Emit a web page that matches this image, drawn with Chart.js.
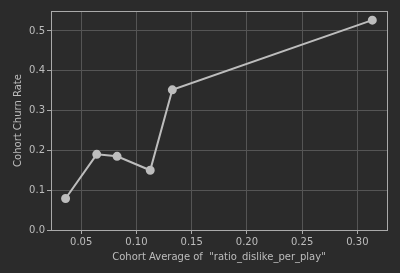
<!DOCTYPE html>
<html>
<head>
<meta charset="utf-8">
<script src="https://cdn.jsdelivr.net/npm/chart.js@4/dist/chart.umd.min.js"></script>
<style>
  html, body { margin: 0; padding: 0; background: #2b2b2b; }
  #wrap { width: 400px; height: 273px; }
</style>
</head>
<body>
<div id="wrap"><canvas id="churn"></canvas></div>
<script>
// cohort averages of ratio_dislike_per_play vs churn rate
let ratio_avg = [0.0359, 0.0641, 0.0825, 0.1125, 0.1325, 0.3135];
let churn_rate = [0.079, 0.190, 0.185, 0.150, 0.352, 0.527];
let x_ticks = [0.05, 0.10, 0.15, 0.20, 0.25, 0.30];
let y_ticks = [0.0, 0.1, 0.2, 0.3, 0.4, 0.5];

let points = [];
for (let i = 0; i < ratio_avg.length; i++) {
  points.push({x: ratio_avg[i], y: churn_rate[i]});
}

const textColor = '#bdbdbd';
const gridColor = '#555555';
const font = {family: 'DejaVu Sans', size: 10};

// matplotlib-like frame round the plot area
const frame = {
  id: 'frame',
  afterDraw(chart) {
    const a = chart.chartArea;
    const c = chart.ctx;
    c.save();
    c.strokeStyle = '#aaaaaa';
    c.lineWidth = 1;
    c.strokeRect(Math.round(a.left) + 0.5, Math.round(a.top) + 0.5,
                 Math.round(a.right - a.left), Math.round(a.bottom - a.top));
    c.restore();
  }
};

new Chart(document.getElementById('churn'), {
  type: 'line',
  data: {
    datasets: [{
      data: points,
      borderColor: '#bdbdbd',
      backgroundColor: '#bdbdbd',
      borderWidth: 2,
      pointRadius: 3.5,
      pointHoverRadius: 3.5,
      tension: 0
    }]
  },
  options: {
    responsive: true,
    maintainAspectRatio: false,
    animation: false,
    layout: {padding: {left: 0, top: 11, right: 13, bottom: 0}},
    plugins: {legend: {display: false}, tooltip: {enabled: false}},
    scales: {
      x: {
        type: 'linear',
        min: 0.0227,
        max: 0.3268,
        afterBuildTicks: (s) => { s.ticks = x_ticks.map(v => ({value: v})); },
        afterFit: (s) => { s.height = 43; },
        ticks: {
          color: textColor, font: font, padding: 2, maxRotation: 0,
          callback: (v) => v.toFixed(2)
        },
        grid: {color: gridColor, tickLength: 4, tickColor: '#aaaaaa'},
        border: {display: false},
        title: {
          display: true, color: textColor, font: font,
          text: 'Cohort Average of  "ratio_dislike_per_play"',
          padding: {top: 2, bottom: 10}
        }
      },
      y: {
        type: 'linear',
        min: 0,
        max: 0.55,
        afterBuildTicks: (s) => { s.ticks = y_ticks.map(v => ({value: v})); },
        afterFit: (s) => { s.width = 51; },
        ticks: {
          color: textColor, font: font, padding: 2,
          callback: (v) => v.toFixed(1)
        },
        grid: {color: gridColor, tickLength: 4, tickColor: '#aaaaaa'},
        border: {display: false},
        title: {
          display: true, color: textColor, font: font,
          text: 'Cohort Churn Rate',
          padding: {top: 12, bottom: 2}
        }
      }
    }
  },
  plugins: [frame]
});
</script>
</body>
</html>
